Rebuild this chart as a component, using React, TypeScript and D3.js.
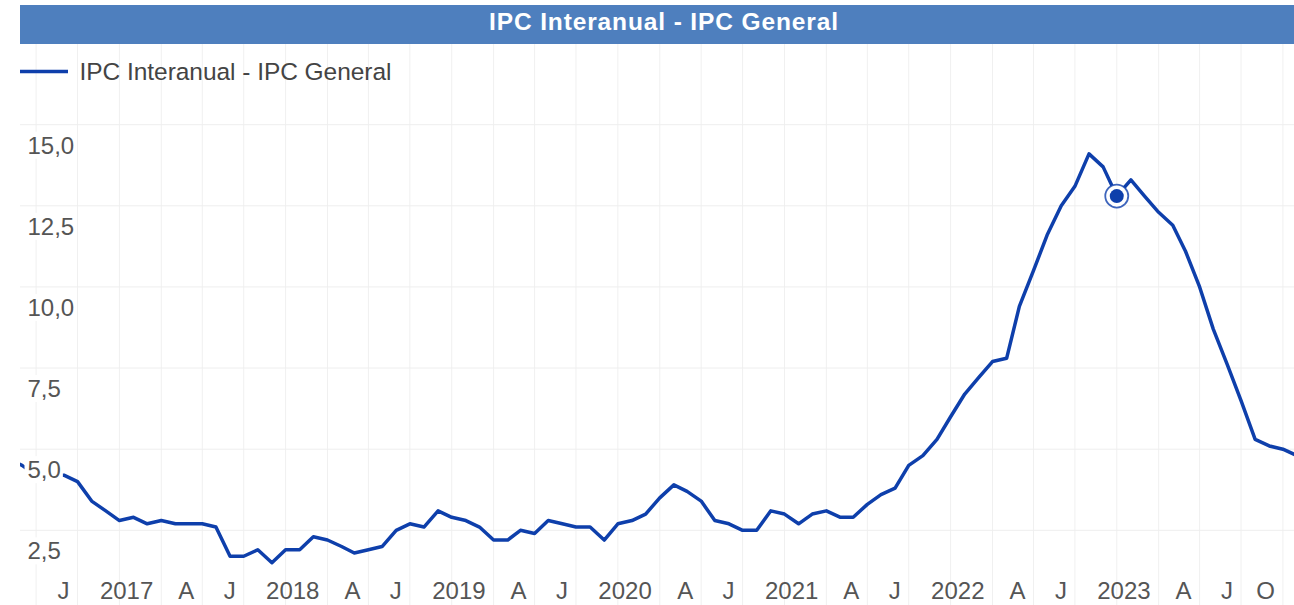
import { useEffect, useRef } from "react";
import * as d3 from "d3";

const seriesName = "IPC Interanual - IPC General";
const firstMonth = "2016-01";

// monthly year-on-year values, one array per year
const ipc2016 = [4.8, 4.7, 4.5, 4.2, 4.2, 4.2, 4.0, 3.4, 3.1, 2.8, 2.9, 2.7];
const ipc2017 = [2.8, 2.7, 2.7, 2.7, 2.6, 1.7, 1.7, 1.9, 1.5, 1.9, 1.9, 2.3];
const ipc2018 = [2.2, 2.0, 1.8, 1.9, 2.0, 2.5, 2.7, 2.6, 3.1, 2.9, 2.8, 2.6];
const ipc2019 = [2.2, 2.2, 2.5, 2.4, 2.8, 2.7, 2.6, 2.6, 2.2, 2.7, 2.8, 3.0];
const ipc2020 = [3.5, 3.9, 3.7, 3.4, 2.8, 2.7, 2.5, 2.5, 3.1, 3.0, 2.7, 3.0];
const ipc2021 = [3.1, 2.9, 2.9, 3.3, 3.6, 3.8, 4.5, 4.8, 5.3, 6.0, 6.7, 7.2];
const ipc2022 = [7.7, 7.8, 9.4, 10.5, 11.6, 12.5, 13.1, 14.1, 13.7, 12.8, 13.3, 12.8];
const ipc2023 = [12.3, 11.9, 11.1, 10.0, 8.7, 7.6, 6.5, 5.3, 5.1, 5.0, 4.8];

const yTicks = [2.5, 5, 7.5, 10, 12.5, 15];
const quarterLetters = ["", "A", "J", "O"]; // January shows the year instead
const highlightMonth = "2022-10";

const lineColor = "#0e3fab";
const textColor = "#555555";
const font = "'Liberation Sans', Arial, sans-serif";

function IpcChart() {
    const ref = useRef<SVGSVGElement>(null);

    useEffect(() => {
        drawChart();
    }, []);

    function drawChart() {
        const width = 1294;
        const plot = { left: 20, right: 1294, top: 44, bottom: 605 };

        const svg = d3.select(ref.current);
        svg.selectAll("*").remove();

        const values = [...ipc2016, ...ipc2017, ...ipc2018, ...ipc2019, ...ipc2020, ...ipc2021, ...ipc2022, ...ipc2023];
        const parseMonth = d3.utcParse("%Y-%m");
        const start = parseMonth(firstMonth)!;
        const data = values.map((v, i) => ({ date: d3.utcMonth.offset(start, i), value: v }));

        // time scale; the view starts a few days before Jan 2016
        const x = d3.scaleUtc()
            .domain([new Date(Date.UTC(2016, 0, 1)), new Date(Date.UTC(2024, 0, 1))])
            .range([-5.3, 1324.8]);

        const y = d3.scaleLinear()
            .domain([2.5, 15])
            .range([530.3, 124.7]);

        const fmt = d3.formatLocale({ decimal: ",", thousands: ".", grouping: [3], currency: ["", "€"] }).format(".1f");

        svg.append("defs")
            .append("clipPath")
            .attr("id", "plot-clip")
            .append("rect")
            .attr("x", plot.left)
            .attr("y", plot.top)
            .attr("width", plot.right - plot.left)
            .attr("height", plot.bottom - plot.top);

        // vertical grid, one line per quarter
        const quarters = x.ticks(d3.utcMonth.every(3)!);
        svg.append("g")
            .selectAll("line")
            .data(quarters.filter((d) => x(d) >= plot.left && x(d) <= plot.right))
            .join("line")
            .attr("x1", (d) => x(d))
            .attr("x2", (d) => x(d))
            .attr("y1", plot.top)
            .attr("y2", plot.bottom)
            .attr("stroke", "#f0f0f0")
            .attr("stroke-width", 1);

        // horizontal grid
        svg.append("g")
            .selectAll("line")
            .data(yTicks)
            .join("line")
            .attr("x1", plot.left)
            .attr("x2", plot.right)
            .attr("y1", (d) => y(d))
            .attr("y2", (d) => y(d))
            .attr("stroke", "#eeeeee")
            .attr("stroke-width", 1);

        // the series
        const line = d3.line<{ date: Date; value: number }>()
            .x((d) => x(d.date))
            .y((d) => y(d.value));

        svg.append("path")
            .datum(data)
            .attr("clip-path", "url(#plot-clip)")
            .attr("fill", "none")
            .attr("stroke", lineColor)
            .attr("stroke-width", 3.5)
            .attr("stroke-linejoin", "round")
            .attr("d", line);

        // y labels sit on white boxes below their grid line
        const yAxis = svg.append("g");
        yTicks.forEach((t) => {
            const g = yAxis.append("g");
            const label = g.append("text")
                .attr("x", 27.5)
                .attr("y", y(t) + 29)
                .attr("font-family", font)
                .attr("font-size", 24)
                .attr("fill", textColor)
                .text(fmt(t));
            const box = (label.node() as SVGTextElement).getBBox();
            g.insert("rect", "text")
                .attr("x", box.x - 3)
                .attr("y", box.y)
                .attr("width", box.width + 5)
                .attr("height", box.height)
                .attr("fill", "white");
        });

        // highlighted point
        const hp = data.find((d) => d3.utcFormat("%Y-%m")(d.date) === highlightMonth)!;
        svg.append("circle")
            .attr("cx", x(hp.date))
            .attr("cy", y(hp.value))
            .attr("r", 11.5)
            .attr("fill", "white")
            .attr("stroke", lineColor)
            .attr("stroke-opacity", 0.8)
            .attr("stroke-width", 1.8);
        svg.append("circle")
            .attr("cx", x(hp.date))
            .attr("cy", y(hp.value))
            .attr("r", 7)
            .attr("fill", lineColor);

        // x labels, right aligned a little before each quarter tick
        const lastTick = x.domain()[1];
        svg.append("g")
            .selectAll("text")
            .data(quarters.filter((d) => x(d) > 50 && x(d) <= plot.right))
            .join("text")
            .attr("x", (d) => x(d) - 8)
            .attr("y", 599)
            .attr("text-anchor", "end")
            .attr("font-family", font)
            .attr("font-size", 24)
            .attr("fill", textColor)
            .text((d) => {
                const q = d.getUTCMonth() / 3;
                if (q === 0) return d3.utcFormat("%Y")(d);
                // October is only shown when no year label follows it
                const next = d3.utcMonth.offset(d, 3);
                if (q === 3 && x(next) <= plot.right && next <= lastTick) return "";
                return quarterLetters[q];
            });

        // title bar
        svg.append("rect")
            .attr("x", 20)
            .attr("y", 5)
            .attr("width", width - 20)
            .attr("height", 39)
            .attr("fill", "#4e7fbe");
        svg.append("text")
            .attr("x", 663.5)
            .attr("y", 29.5)
            .attr("text-anchor", "middle")
            .attr("font-family", font)
            .attr("font-weight", "bold")
            .attr("font-size", 24.5)
            .attr("fill", "white")
            .attr("textLength", 349)
            .attr("lengthAdjust", "spacing")
            .text(seriesName);

        // legend
        svg.append("line")
            .attr("x1", 20)
            .attr("x2", 68)
            .attr("y1", 71.5)
            .attr("y2", 71.5)
            .attr("stroke", lineColor)
            .attr("stroke-width", 3.5);
        svg.append("text")
            .attr("x", 79.5)
            .attr("y", 80)
            .attr("font-family", font)
            .attr("font-size", 24.5)
            .attr("fill", "#444")
            .attr("textLength", 312)
            .attr("lengthAdjust", "spacing")
            .text(seriesName);
    }

    return (
        <svg
            ref={ref}
            width={1294}
            height={605}
            style={{ position: "absolute", left: 0, top: 0, display: "block", background: "white" }}
        />
    );
}

export default function App() {
    return <IpcChart />;
}
